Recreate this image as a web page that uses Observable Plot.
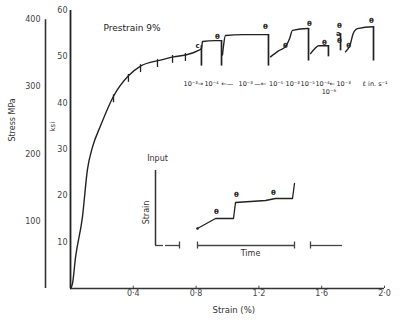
<!DOCTYPE html>
<html><head><meta charset="utf-8">
<script src="https://cdn.jsdelivr.net/npm/d3@7"></script>
<script src="https://cdn.jsdelivr.net/npm/@observablehq/plot@0.6"></script>
<style>
body{margin:0;background:#fff;}
#wrap{position:relative;width:419px;height:322px;overflow:hidden;background:#fff;}
#main{position:absolute;left:0;top:0;}
#inset{position:absolute;left:140px;top:150px;}
svg{overflow:visible;}
</style></head><body>
<div id="wrap"><div id="main"></div><div id="inset"></div></div>
<script>
// ---- data (strain in %, stress in ksi) ----
const segA_strain = [0, 0.013, 0.032, 0.076, 0.108, 0.14, 0.19, 0.274, 0.369, 0.446, 0.573, 0.656, 0.745, 0.809, 0.834, 0.841, 0.92, 0.962];
const segA_stress = [0, 1.1, 6.7, 15.4, 25.7, 30.5, 35, 41.5, 45.9, 48, 49.3, 50, 50.5, 51.3, 51.8, 53.3, 53.5, 53.5];
const segB_strain = [0.968, 0.975, 0.987, 1.1, 1.261];
const segB_stress = [50.4, 52.5, 54.6, 54.8, 54.8];
const segC_strain = [1.274, 1.325, 1.369, 1.395, 1.414, 1.51, 1.516];
const segC_stress = [50.0, 51.3, 52.2, 53.9, 55.7, 56.1, 56.1];
const segD_strain = [1.529, 1.554, 1.58, 1.643];
const segD_stress = [50.7, 51.7, 52.4, 52.4];
const segE_strain = [1.752, 1.783, 1.80, 1.828, 1.924, 1.930];
const segE_stress = [51.1, 52.8, 55.0, 56.1, 56.5, 56.5];

const dropStrain = [0.834, 0.962, 1.261, 1.516, 1.643, 1.720, 1.930];
const dropTop    = [52.4, 53.5, 54.8, 56.1, 52.4, 55.0, 56.5];
const dropBottom = [48.0, 48.0, 48.0, 49.1, 50.0, 51.3, 49.1];

const hashStrain = [0.274, 0.369, 0.446, 0.554, 0.65, 0.732];
const hashStress = [41.5, 45.9, 48, 49.1, 50, 50.4];

const markText   = ["c", "θ", "θ", "θ", "θ", "θ", "θ", "ə", "θ", "θ", "θ"];
const markStrain = [0.809, 0.936, 1.242, 1.369, 1.522, 1.618, 1.713, 1.707, 1.713, 1.771, 1.917];
const markStress = [52.4, 54.3, 56.5, 52.4, 57.2, 53.0, 56.7, 55.0, 53.5, 52.4, 57.8];

const rateText   = ["10⁻³", "→", "10⁻⁴", "←—", "10⁻³", "—←", "10⁻⁵", "10⁻³", "10⁻⁵", "10⁻⁴", "←", "10⁻³", "ε̇ in. s⁻¹"];
const rateStrain = [0.72, 0.81, 0.853, 0.96, 1.07, 1.17, 1.265, 1.37, 1.465, 1.56, 1.65, 1.694, 1.86];
const rateStress = 44.1;
const rateBelowText = "10⁻⁶", rateBelowStrain = 1.6, rateBelowStress = 42.4;

const ksiTicks = [10, 20, 30, 40, 50, 60];
const mpaTicks = [100, 200, 300, 400];
const strainTicks = [0.4, 0.8, 1.2, 1.6, 2.0];
const strainTickLabels = ["0·4", "0·8", "1·2", "1·6", "2·0"];
const KSI_PER_MPA = 1 / 6.895;

// inset schematic (arbitrary time / strain units)
const insetTime   = [4.2, 6.0, 7.8, 8.0, 9.5, 11.0, 12.0, 13.7, 13.9];
const insetStrain = [1.7, 2.7, 2.7, 4.3, 4.4, 4.5, 4.7, 4.7, 6.2];
const insetThetaT = [6.1, 8.1, 11.8];
const insetThetaS = [3.4, 5.1, 5.3];
const timeSegStart = [0, 1.0, 4.2, 15.5];
const timeSegEnd   = [0.8, 2.4, 13.9, 18.7];
const timeEndTicks = [2.4, 4.2, 13.9, 15.5];

// ---- build tables ----
const segs = [["A", segA_strain, segA_stress], ["B", segB_strain, segB_stress], ["C", segC_strain, segC_stress], ["D", segD_strain, segD_stress], ["E", segE_strain, segE_stress]];
const curve = segs.flatMap(([k, xs, ys]) => xs.map((x, i) => ({seg: k, strain: x, stress: ys[i]})));
const drops = dropStrain.map((x, i) => ({strain: x, top: dropTop[i], bottom: dropBottom[i]}));
const hashes = hashStrain.map((x, i) => ({strain: x, stress: hashStress[i]}));
const marks = markText.map((t, i) => ({t, strain: markStrain[i], stress: markStress[i]}));
const rates = rateText.map((t, i) => ({t, strain: rateStrain[i]}));

const ink = "#222";
const font = "'DejaVu Sans', 'Liberation Sans', sans-serif";

const main = Plot.plot({
  width: 419, height: 322,
  marginLeft: 70, marginRight: 35, marginTop: 10, marginBottom: 34,
  x: {type: "linear", domain: [0, 2.0], axis: null},
  y: {type: "linear", domain: [0, 60], axis: null},
  style: {fontFamily: font, fontSize: "8px", color: "#333", background: "transparent"},
  marks: [
    Plot.ruleX([0], {y1: 0, y2: 60, stroke: ink, strokeWidth: 1.8}),
    Plot.ruleX([0], {y1: 0, y2: 400 * KSI_PER_MPA, dx: -25, stroke: "#333", strokeWidth: 1.6}),
    Plot.ruleY([0], {x1: 0, x2: 2.0, stroke: "#333", strokeWidth: 1.5}),
    Plot.text(ksiTicks, {y: d => d, text: d => String(d), frameAnchor: "left", dx: -3, textAnchor: "end", fontSize: 8, fill: "#444"}),
    Plot.text(mpaTicks, {y: d => d * KSI_PER_MPA, text: d => String(d), frameAnchor: "left", dx: -30, textAnchor: "end", fontSize: 8, fill: "#444"}),
    Plot.ruleX(strainTicks, {x: d => d, y1: 0, y2: 0.5, stroke: "#444", strokeWidth: 1}),
    Plot.text(strainTicks, {x: d => d, text: (d, i) => strainTickLabels[i], frameAnchor: "bottom", dy: 7, fontSize: 8, fill: "#444"}),
    Plot.text(["Strain (%)"], {x: 1.04, frameAnchor: "bottom", dy: 24, fontSize: 8.5, fill: "#333"}),
    Plot.text(["Stress MPa"], {y: 31.7, frameAnchor: "left", dx: -58, rotate: -90, fontSize: 8, fill: "#333"}),
    Plot.text(["ksi"], {y: 33.9, frameAnchor: "left", dx: -18, rotate: -90, fontSize: 7, fill: "#333"}),
    Plot.text(["Prestrain 9%"], {x: 0.21, y: 56.1, textAnchor: "start", fontSize: 9, fill: "#222"}),
    Plot.line(curve, {x: "strain", y: "stress", z: "seg", stroke: ink, strokeWidth: 1.4, curve: "monotone-x"}),
    Plot.ruleX(drops, {x: "strain", y1: "bottom", y2: "top", stroke: ink, strokeWidth: 1.7}),
    Plot.ruleX(hashes, {x: "strain", y1: d => d.stress - 1.4, y2: d => d.stress + 0.3, stroke: ink, strokeWidth: 1.3}),
    Plot.text(marks, {x: "strain", y: "stress", text: "t", fontSize: 7, fontWeight: "bold", fill: ink}),
    Plot.text(rates, {x: "strain", y: () => rateStress, text: "t", textAnchor: "start", fontSize: 6.5, fill: "#222"}),
    Plot.text([rateBelowText], {x: () => rateBelowStrain, y: () => rateBelowStress, textAnchor: "start", fontSize: 6.5, fill: "#222"})
  ]
});
document.getElementById("main").appendChild(main);

const insetLine = insetTime.map((t, i) => ({t, s: insetStrain[i]}));
const inset = Plot.plot({
  width: 210, height: 115,
  marginLeft: 15, marginRight: 5, marginTop: 20, marginBottom: 20,
  x: {type: "linear", domain: [0, 19], axis: null},
  y: {type: "linear", domain: [0, 7.5], axis: null},
  style: {fontFamily: font, fontSize: "8px", color: "#333", background: "transparent"},
  marks: [
    Plot.ruleX([0], {y1: 0, y2: 7.5, stroke: "#333", strokeWidth: 1.5}),
    Plot.ruleY(timeSegStart.map((s, i) => ({s, e: timeSegEnd[i]})), {x1: "s", x2: "e", y: () => 0, stroke: "#444", strokeWidth: 1.3}),
    Plot.ruleX(timeEndTicks, {x: d => d, y1: -0.35, y2: 0.35, stroke: "#444", strokeWidth: 1.3}),
    Plot.line(insetLine, {x: "t", y: "s", stroke: ink, strokeWidth: 1.3}),
    Plot.dot([insetLine[0]], {x: "t", y: "s", r: 1.3, fill: ink}),
    Plot.text(insetThetaT.map((t, i) => ({t, s: insetThetaS[i]})), {x: "t", y: "s", text: () => "θ", fontSize: 7, fontWeight: "bold", fill: ink}),
    Plot.text(["Time"], {x: () => 9.5, y: () => 0, dy: 8, fontSize: 8, fill: "#333"}),
    Plot.text(["Strain"], {x: () => -0.9, y: () => 3.3, rotate: -90, fontSize: 8, fill: "#333"}),
    Plot.text(["Input"], {x: () => 0.2, y: () => 8.7, fontSize: 8, fill: "#333"})
  ]
});
document.getElementById("inset").appendChild(inset);
</script>
</body></html>
